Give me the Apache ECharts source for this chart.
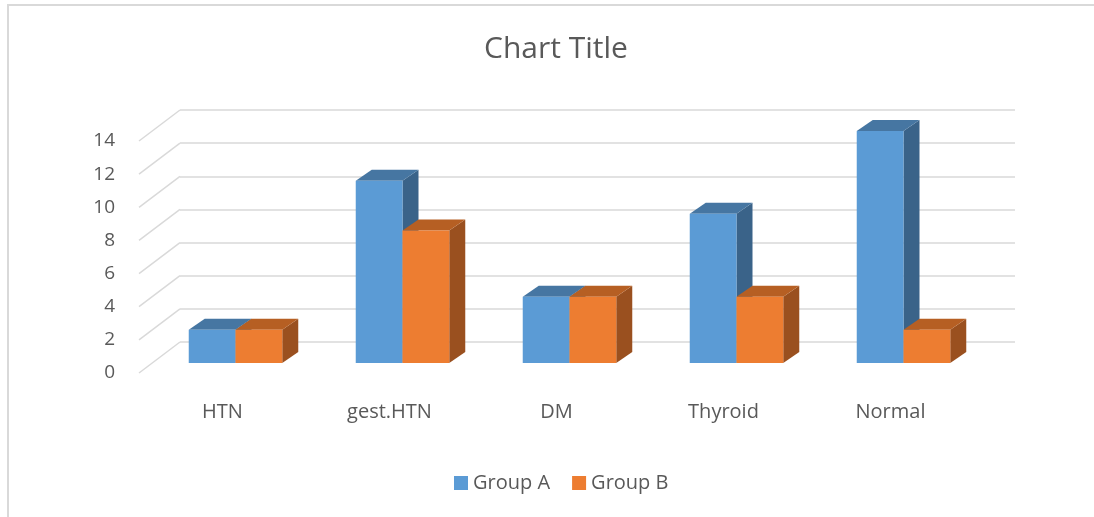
<html>
    <head>
        <meta charset="utf-8">
        <script src="https://cdn.jsdelivr.net/npm/echarts@6/dist/echarts.min.js"></script>
    </head>
    <body>
        <style>
            html, body, #main {
                width: 100%;
                height: 100%;
                margin: 0;
            }
            #frame {
                position: absolute;
                left: 7px;
                top: 4px;
                right: 0;
                bottom: 0;
                border-top: 2px solid #d9d9d9;
                border-left: 2px solid #d9d9d9;
                pointer-events: none;
            }
        </style>
        <div id="main"></div>
        <div id="frame"></div>
        <script>

        var categories = ['HTN', 'gest.HTN', 'DM', 'Thyroid', 'Normal'];
        var groupA = [2, 11, 4, 9, 14];
        var groupB = [2, 8, 4, 4, 2];
        var tickValues = [0, 2, 4, 6, 8, 10, 12, 14];

        var font = 'Open Sans';
        var textColor = '#595959';
        var gridColor = '#d9d9d9';

        // depth of the floor (wall -> front edge) and of the bars
        var WALL_DX = -41, WALL_DY = 31;
        var FRONT_DX = -28, FRONT_DY = 21;
        var BAR_DX = 16, BAR_DY = -11;

        function barRenderer(side, front, top, shade) {
            return function (params, api) {
                var i = api.value(0);
                var v = api.value(1);
                var base = api.coord([i, 0]);
                var pt = api.coord([i, v]);
                var w = api.size([1, 0])[0] * 0.28;
                var cx = pt[0] + FRONT_DX;
                var x0 = side === 0 ? cx - w : cx;
                var x1 = x0 + w;
                var yT = pt[1] + FRONT_DY;
                var yB = base[1] + FRONT_DY;
                return {
                    type: 'group',
                    children: [
                        {
                            type: 'polygon',
                            shape: { points: [[x1, yT], [x1, yB], [x1 + BAR_DX, yB + BAR_DY], [x1 + BAR_DX, yT + BAR_DY]] },
                            style: { fill: shade }
                        },
                        {
                            type: 'polygon',
                            shape: { points: [[x0, yT], [x1, yT], [x1 + BAR_DX, yT + BAR_DY], [x0 + BAR_DX, yT + BAR_DY]] },
                            style: { fill: top }
                        },
                        {
                            type: 'rect',
                            shape: { x: x0, y: yT, width: w, height: yB - yT },
                            style: { fill: front }
                        }
                    ]
                };
            };
        }

        var chart = echarts.init(document.getElementById('main'));

        chart.setOption({
            animation: false,
            textStyle: { fontFamily: font },
            title: {
                text: 'Chart Title',
                left: 479,
                top: 29,
                textStyle: { fontFamily: font, fontSize: 30, fontWeight: 'normal', color: textColor }
            },
            legend: {
                left: 449,
                top: 468,
                icon: 'rect',
                itemWidth: 14,
                itemHeight: 14,
                itemGap: 22,
                textStyle: { fontFamily: font, fontSize: 20, color: textColor },
                data: ['Group A', 'Group B']
            },
            grid: [
                { left: 180, right: 79, top: 110, bottom: 175 },
                { left: 139, right: 120, top: 141, bottom: 144 }
            ],
            xAxis: [
                { type: 'category', gridIndex: 0, data: categories, show: false },
                {
                    type: 'category', gridIndex: 1, data: categories,
                    axisLine: { show: false },
                    axisTick: { show: false },
                    axisLabel: { margin: 29, fontFamily: font, fontSize: 20, color: textColor }
                }
            ],
            yAxis: [
                {
                    type: 'value', gridIndex: 0, min: 0, max: 14, interval: 2,
                    axisLabel: { show: false },
                    axisLine: { show: false },
                    axisTick: { show: false },
                    splitLine: { lineStyle: { color: gridColor, width: 1.5 } }
                },
                {
                    type: 'value', gridIndex: 1, min: 0, max: 14, interval: 2,
                    axisLine: { show: false },
                    axisTick: { show: false },
                    splitLine: { show: false },
                    axisLabel: { margin: 24, fontFamily: font, fontSize: 19, color: textColor, padding: [8, 0, 0, 0] }
                }
            ],
            series: [
                {
                    type: 'custom',
                    name: 'floor',
                    xAxisIndex: 0,
                    yAxisIndex: 0,
                    silent: true,
                    data: tickValues.map(function (v) { return [0, v]; }),
                    renderItem: function (params, api) {
                        var pt = api.coord([0, api.value(1)]);
                        var x = params.coordSys.x;
                        return {
                            type: 'line',
                            shape: { x1: x, y1: pt[1], x2: x + WALL_DX, y2: pt[1] + WALL_DY },
                            style: { stroke: gridColor, lineWidth: 1.5 }
                        };
                    }
                },
                {
                    type: 'custom',
                    name: 'Group A',
                    xAxisIndex: 0,
                    yAxisIndex: 0,
                    itemStyle: { color: '#5b9bd5' },
                    data: groupA.map(function (v, i) { return [i, v]; }),
                    renderItem: barRenderer(0, '#5b9bd5', '#4676a2', '#3a6389')
                },
                {
                    type: 'custom',
                    name: 'Group B',
                    xAxisIndex: 0,
                    yAxisIndex: 0,
                    itemStyle: { color: '#ed7d31' },
                    data: groupB.map(function (v, i) { return [i, v]; }),
                    renderItem: barRenderer(1, '#ed7d31', '#b65f23', '#9a501f')
                }
            ]
        });

        </script>
    </body>
</html>
